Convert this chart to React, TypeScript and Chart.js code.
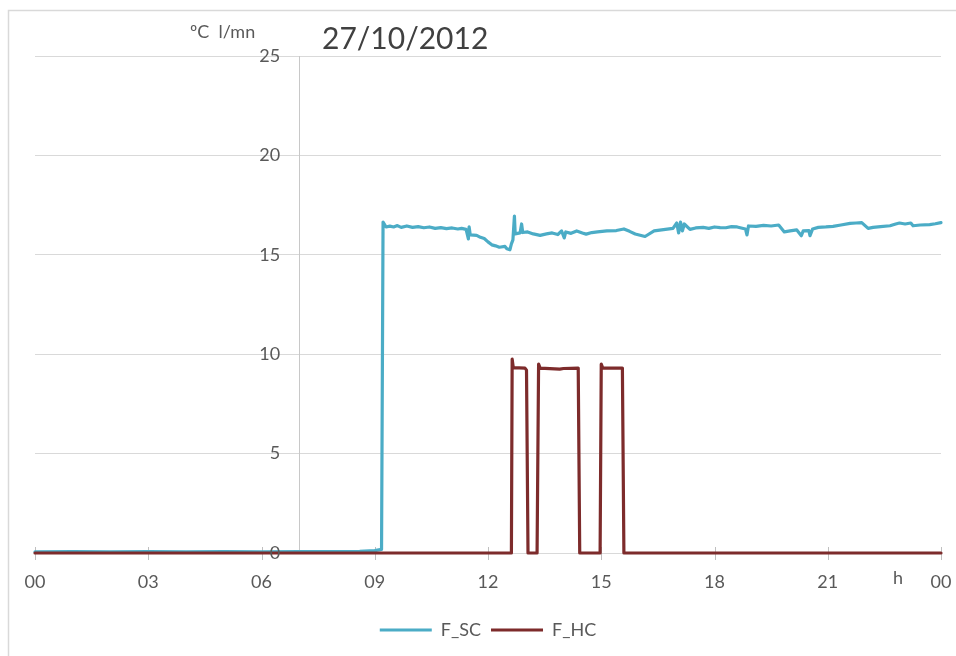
import React, { useEffect, useRef } from "react";
import { Chart, registerables } from "chart.js";

Chart.register(...registerables);

const TITLE = "27/10/2012";
const Y_UNIT = "ºC  l/mn";
const X_UNIT = "h";

const xTickLabels = ["00", "03", "06", "09", "12", "15", "18", "21", "00"];
const yTickValues = [0, 5, 10, 15, 20, 25];
const yAxisCrossHour = 7;

const scHours = [
  0, 1, 2, 3, 4, 5, 6, 7, 8, 8.6, 9.0, 9.18, 9.22, 9.3, 9.4, 9.5, 9.6, 9.7, 9.85, 10.0, 10.15,
  10.3, 10.45, 10.6, 10.75, 10.9, 11.05, 11.2, 11.3, 11.42, 11.48, 11.5, 11.53, 11.7, 11.8, 11.9,
  12.0, 12.1, 12.2, 12.3, 12.45, 12.5, 12.58, 12.62, 12.66, 12.7, 12.72, 12.85, 12.89, 12.92,
  13.05, 13.2, 13.38, 13.55, 13.7, 13.85, 13.95, 14.02, 14.06, 14.2, 14.35, 14.5, 14.6, 14.75,
  14.9, 15.15, 15.4, 15.6, 15.75, 15.9, 16.16, 16.4, 16.6, 16.9, 17.0, 17.05, 17.1, 17.15, 17.2,
  17.35, 17.5, 17.7, 17.85, 18.0, 18.15, 18.3, 18.45, 18.6, 18.82, 18.86, 18.9, 19.1, 19.3,
  19.5, 19.7, 19.85, 20.0, 20.18, 20.3, 20.35, 20.5, 20.53, 20.6, 20.75, 20.95, 21.14, 21.35,
  21.59, 21.75, 21.9, 22.07, 22.2, 22.4, 22.65, 22.8, 22.9, 23.05, 23.2, 23.26, 23.45, 23.7,
  23.85, 24.0,
];
const scValues = [
  0.06, 0.07, 0.06, 0.07, 0.06, 0.07, 0.06, 0.07, 0.07, 0.08, 0.12, 0.18, 16.65, 16.4, 16.44,
  16.4, 16.47, 16.38, 16.45, 16.38, 16.42, 16.36, 16.4, 16.33, 16.37, 16.32, 16.35, 16.3,
  16.33, 16.28, 15.8, 16.4, 16.0, 15.98, 15.88, 15.82, 15.65, 15.5, 15.45, 15.38, 15.42, 15.3,
  15.25, 15.55, 15.75, 16.95, 16.05, 16.1, 16.55, 16.12, 16.15, 16.05, 15.98, 16.05, 16.1,
  16.02, 16.2, 15.85, 16.15, 16.08, 16.2, 16.1, 16.04, 16.12, 16.15, 16.2, 16.22, 16.3, 16.18,
  16.05, 15.92, 16.2, 16.25, 16.33, 16.6, 16.1, 16.65, 16.2, 16.55, 16.28, 16.35, 16.38,
  16.33, 16.4, 16.37, 16.36, 16.42, 16.4, 16.3, 16.0, 16.45, 16.43, 16.48, 16.45, 16.5,
  16.15, 16.2, 16.25, 15.96, 16.2, 16.22, 15.96, 16.3, 16.38, 16.4, 16.43, 16.5, 16.58, 16.6,
  16.62, 16.33, 16.38, 16.42, 16.46, 16.55, 16.6, 16.55, 16.6, 16.46, 16.5, 16.52, 16.56, 16.62,
];

const hcHours = [
  0, 12.62, 12.64, 12.67, 12.98, 13.02, 13.06, 13.3, 13.34, 13.38, 13.9, 14.0, 14.39, 14.43,
  14.97, 15.0, 15.04, 15.56, 15.6, 24,
];
const hcValues = [
  0, 0, 9.75, 9.32, 9.3, 9.2, 0, 0, 9.5, 9.3, 9.25, 9.28, 9.3, 0, 0, 9.5, 9.3, 9.3, 0, 0,
];

const FONT = "Lato, 'Open Sans', sans-serif";
const TEXT = "#595959";

const decorPlugin = {
  id: "decor",
  beforeDraw(chart: any) {
    const ctx = chart.ctx;
    ctx.save();
    ctx.strokeStyle = "#D9D9D9";
    ctx.lineWidth = 1.5;
    ctx.beginPath();
    ctx.moveTo(8.5, 660);
    ctx.lineTo(8.5, 10.5);
    ctx.lineTo(960, 10.5);
    ctx.stroke();
    ctx.restore();
  },
  beforeDatasetsDraw(chart: any) {
    const ctx = chart.ctx;
    const xs = chart.scales.x;
    const ys = chart.scales.y;
    const area = chart.chartArea;
    ctx.save();
    const ax = Math.round(xs.getPixelForValue(yAxisCrossHour)) + 0.5;
    ctx.strokeStyle = "#C8C8C8";
    ctx.lineWidth = 1;
    ctx.beginPath();
    ctx.moveTo(ax, area.top);
    ctx.lineTo(ax, area.bottom);
    ctx.stroke();
    const by = ys.getPixelForValue(0);
    ctx.strokeStyle = "#BFBFBF";
    xs.ticks.forEach((t: any) => {
      const px = Math.round(xs.getPixelForValue(t.value)) + 0.5;
      ctx.beginPath();
      ctx.moveTo(px, by - 6);
      ctx.lineTo(px, by + 7);
      ctx.stroke();
    });
    ctx.restore();
  },
  afterDraw(chart: any) {
    const ctx = chart.ctx;
    const xs = chart.scales.x;
    const ys = chart.scales.y;
    ctx.save();
    ctx.fillStyle = TEXT;
    ctx.font = `18px ${FONT}`;
    ctx.textAlign = "right";
    ctx.textBaseline = "middle";
    const ax = xs.getPixelForValue(yAxisCrossHour);
    yTickValues.forEach((v) => {
      ctx.fillText(String(v), ax - 19, ys.getPixelForValue(v));
    });
    ctx.textAlign = "left";
    ctx.font = `18px ${FONT}`;
    ctx.fillText(Y_UNIT, 190, 32);
    ctx.fillText(X_UNIT, 893, 578);
    ctx.font = `30px ${FONT}`;
    ctx.fillStyle = "#404040";
    ctx.fillText(TITLE, 322, 39);
    ctx.restore();
  },
};

export default function App() {
  const ref = useRef<HTMLCanvasElement>(null);
  useEffect(() => {
    if (!ref.current) return;
    const common = {
      borderWidth: 3.2,
      pointRadius: 0,
      tension: 0,
      borderJoinStyle: "round" as const,
      borderCapStyle: "round" as const,
      clip: false as any,
    };
    const chart = new Chart(ref.current, {
      type: "line",
      data: {
        datasets: [
          {
            ...common,
            label: "F_SC",
            data: scHours.map((h, i) => ({ x: h, y: scValues[i] })),
            borderColor: "#4BACC6",
            backgroundColor: "#4BACC6",
            order: 1,
          },
          {
            ...common,
            label: "F_HC",
            data: hcHours.map((h, i) => ({ x: h, y: hcValues[i] })),
            borderColor: "#7D2B2B",
            backgroundColor: "#7D2B2B",
            order: 0,
          },
        ],
      },
      options: {
        responsive: false,
        animation: false,
        layout: { padding: { left: 35, right: 15, top: 56, bottom: 7 } },
        plugins: {
          legend: {
            position: "bottom",
            labels: {
              usePointStyle: true,
              pointStyle: "line",
              pointStyleWidth: 52,
              color: TEXT,
              font: { family: FONT, size: 18 },
              padding: 10,
              sort: (a: any, b: any) => a.datasetIndex - b.datasetIndex,
            },
          },
          tooltip: { enabled: false },
          title: { display: false },
        },
        scales: {
          x: {
            type: "linear",
            min: 0,
            max: 24,
            grid: { display: true, drawOnChartArea: false, drawTicks: false, color: "#BFBFBF" },
            border: { display: true, color: "#D9D9D9" },
            ticks: {
              stepSize: 3,
              autoSkip: false,
              maxRotation: 0,
              padding: 18,
              color: TEXT,
              font: { family: FONT, size: 18 },
              callback: (_v: any, i: number) => xTickLabels[i],
            },
            afterFit: (s: any) => {
              s.height = 58;
              s.paddingLeft = 0;
              s.paddingRight = 0;
            },
          },
          y: {
            type: "linear",
            min: 0,
            max: 25,
            grid: { color: "#D9D9D9", drawTicks: false },
            border: { display: false },
            ticks: { stepSize: 5, display: false },
            afterFit: (s: any) => {
              s.width = 0;
              s.paddingTop = 0;
              s.paddingBottom = 0;
            },
          },
        },
      },
      plugins: [decorPlugin],
    });
    return () => chart.destroy();
  }, []);
  return (
    <div style={{ position: "fixed", left: 0, top: 0, width: 956, height: 656, background: "#fff" }}>
      <canvas ref={ref} width={956} height={656} style={{ display: "block" }} />
    </div>
  );
}
